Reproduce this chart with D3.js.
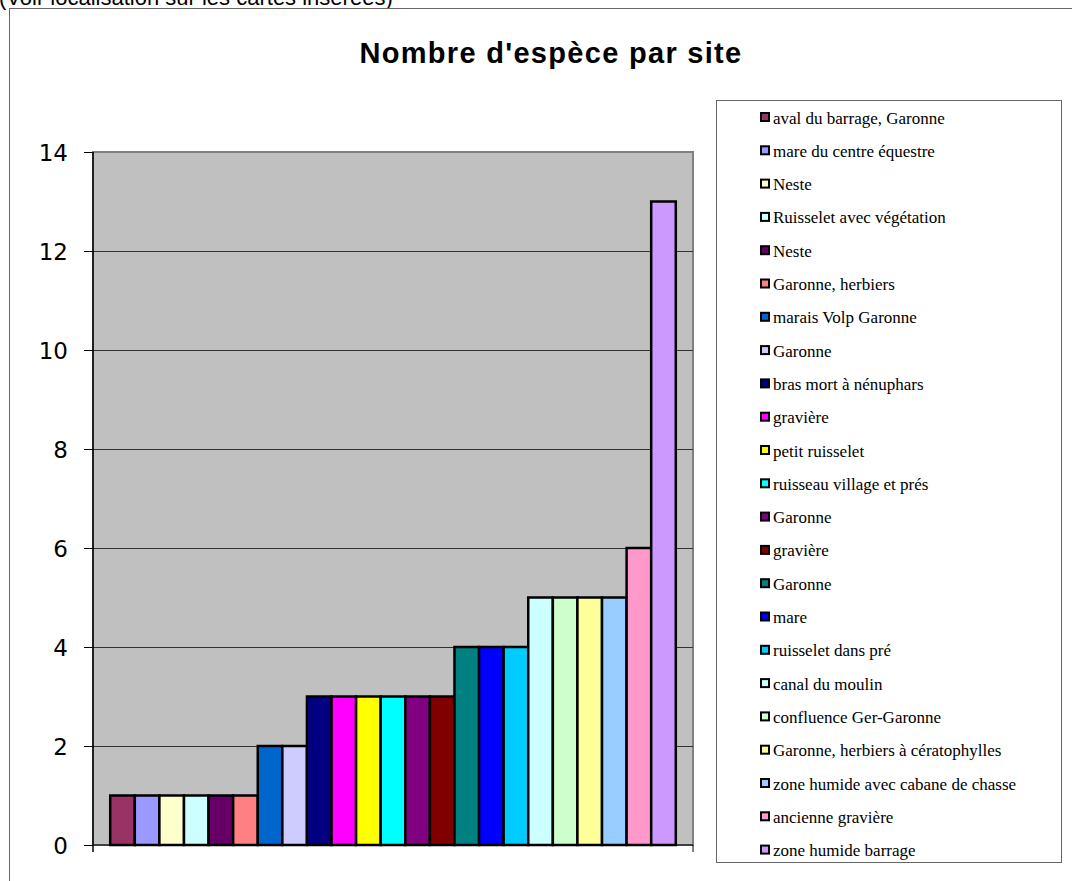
<!DOCTYPE html>
<html>
<head>
<meta charset="utf-8">
<script src="https://cdn.jsdelivr.net/npm/d3@7"></script>
<style>
  html, body { margin: 0; padding: 0; background: #fff; }
  svg { display: block; }
</style>
</head>
<body>
<svg id="chart" width="1072" height="881"></svg>
<script>
// Sites, number of species recorded at each, and bar fill colours
const sites = [
  "aval du barrage, Garonne", "mare du centre équestre", "Neste",
  "Ruisselet avec végétation", "Neste", "Garonne, herbiers",
  "marais Volp Garonne", "Garonne", "bras mort à nénuphars", "gravière",
  "petit ruisselet", "ruisseau village et prés", "Garonne", "gravière",
  "Garonne", "mare", "ruisselet dans pré", "canal du moulin",
  "confluence Ger-Garonne", "Garonne, herbiers à cératophylles",
  "zone humide avec cabane de chasse", "ancienne gravière", "zone humide barrage"
];
const speciesCount = [1, 1, 1, 1, 1, 1, 2, 2, 3, 3, 3, 3, 3, 3, 4, 4, 4, 5, 5, 5, 5, 6, 13];
const colors = [
  "#993366", "#9999FF", "#FFFFCC", "#CCFFFF", "#660066", "#FF8080",
  "#0066CC", "#CCCCFF", "#000080", "#FF00FF", "#FFFF00", "#00FFFF",
  "#800080", "#800000", "#008080", "#0000FF", "#00CCFF", "#CCFFFF",
  "#CCFFCC", "#FFFF99", "#99CCFF", "#FF99CC", "#CC99FF"
];
const yTicks = [0, 2, 4, 6, 8, 10, 12, 14];
const chartTitle = "Nombre d'espèce par site";
const caption = "(Voir localisation sur les cartes insérées)";

const svg = d3.select("#chart");

// caption line above the chart frame (runs off the page top)
svg.append("text")
  .attr("x", -1).attr("y", 5)
  .attr("font-family", "'Liberation Sans', Arial, sans-serif")
  .attr("font-size", 22)
  .attr("fill", "#000")
  .text(caption);

// chart frame
svg.append("rect")
  .attr("x", 9.5).attr("y", 8.5)
  .attr("width", 1100).attr("height", 900)
  .attr("fill", "#fff").attr("stroke", "#666").attr("stroke-width", 1);

// title
svg.append("text")
  .attr("x", 551).attr("y", 63)
  .attr("text-anchor", "middle")
  .attr("font-family", "'Liberation Sans', Arial, sans-serif")
  .attr("font-weight", "bold")
  .attr("font-size", 29)
  .attr("letter-spacing", 1.3)
  .attr("fill", "#000")
  .text(chartTitle);

// plot area
const plot = { left: 93, right: 693, top: 152, bottom: 845 };

const x = d3.scaleBand()
  .domain(d3.range(sites.length))
  .range([plot.left, plot.right])
  .paddingInner(0)
  .paddingOuter(0.7);

const y = d3.scaleLinear()
  .domain([0, 14])
  .range([plot.bottom, plot.top]);

svg.append("rect")
  .attr("x", plot.left).attr("y", plot.top)
  .attr("width", plot.right - plot.left)
  .attr("height", plot.bottom - plot.top)
  .attr("fill", "#C0C0C0")
  .attr("stroke", "#808080").attr("stroke-width", 2);

// horizontal gridlines
svg.append("g")
  .selectAll("line")
  .data(yTicks.filter(d => d > 0 && d < 14))
  .join("line")
  .attr("x1", plot.left).attr("x2", plot.right)
  .attr("y1", d => Math.round(y(d)) + 0.5)
  .attr("y2", d => Math.round(y(d)) + 0.5)
  .attr("stroke", "#333").attr("stroke-width", 1);

// bars
svg.append("g")
  .selectAll("rect")
  .data(speciesCount)
  .join("rect")
  .attr("x", (d, i) => x(i))
  .attr("y", d => y(d))
  .attr("width", x.bandwidth())
  .attr("height", d => y(0) - y(d))
  .attr("fill", (d, i) => colors[i])
  .attr("stroke", "#000")
  .attr("stroke-width", 2.5);

// y axis
const yAxis = d3.axisLeft(y)
  .tickValues(yTicks)
  .tickSize(9)
  .tickPadding(16)
  .tickSizeOuter(0);

const yg = svg.append("g")
  .attr("transform", `translate(${plot.left},0)`)
  .call(yAxis);
yg.select(".domain").remove();
yg.selectAll(".tick line").attr("stroke", "#000");
yg.selectAll(".tick text")
  .attr("font-family", "'DejaVu Sans', 'Liberation Sans', sans-serif")
  .attr("font-size", 23)
  .attr("fill", "#000")
  .attr("dy", "0.36em");

svg.append("line")
  .attr("x1", plot.left).attr("x2", plot.left)
  .attr("y1", plot.top).attr("y2", plot.bottom + 7)
  .attr("stroke", "#000").attr("stroke-width", 1.5);

// x axis baseline with end tick marks
svg.append("line")
  .attr("x1", plot.left).attr("x2", plot.right)
  .attr("y1", plot.bottom).attr("y2", plot.bottom)
  .attr("stroke", "#000").attr("stroke-width", 1);
svg.append("line")
  .attr("x1", plot.right).attr("x2", plot.right)
  .attr("y1", plot.bottom).attr("y2", plot.bottom + 7)
  .attr("stroke", "#000").attr("stroke-width", 1);

// legend
const legend = { x: 716.5, y: 100.5, w: 345, h: 762, first: 118, step: 33.3 };
svg.append("rect")
  .attr("x", legend.x).attr("y", legend.y)
  .attr("width", legend.w).attr("height", legend.h)
  .attr("fill", "#fff").attr("stroke", "#666").attr("stroke-width", 1);

const items = svg.append("g")
  .selectAll("g")
  .data(sites)
  .join("g")
  .attr("transform", (d, i) => `translate(0,${legend.first + i * legend.step})`);

items.append("rect")
  .attr("x", 761).attr("y", -5)
  .attr("width", 8).attr("height", 8)
  .attr("fill", (d, i) => colors[i])
  .attr("stroke", "#000").attr("stroke-width", 2);

items.append("text")
  .attr("x", 773).attr("y", 5.5)
  .attr("font-family", "'Liberation Serif', 'Times New Roman', serif")
  .attr("font-size", 17)
  .attr("fill", "#000")
  .text(d => d);
</script>
</body>
</html>
